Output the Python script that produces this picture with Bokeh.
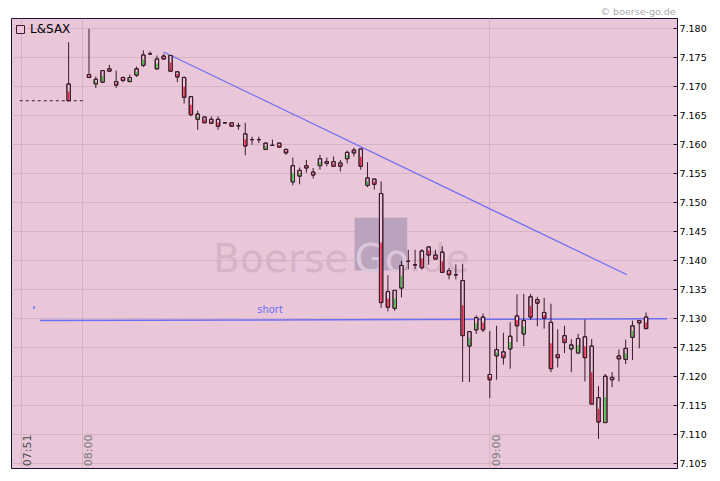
from math import pi
from bokeh.plotting import figure
from bokeh.models import (ColumnDataSource, FixedTicker, NumeralTickFormatter, Label,
                          LabelSet, BoxAnnotation, Range1d, Legend, LegendItem)
from bokeh.core.properties import value
from bokeh.embed import file_html
from bokeh.resources import INLINE

# ---------------- data (minutes relative to 08:00) ----------------
minutes = [-2, 1, 2, 3, 4, 5, 6, 7, 8, 9, 10, 11, 12, 13, 14, 15, 16, 17, 18, 19, 20,
           21, 22, 23, 24, 25, 26, 27, 28, 29, 30, 31, 32, 33, 34, 35, 36, 37, 38, 39, 40,
           41, 42, 43, 44, 45, 46, 47, 48, 49, 50, 51, 52, 53, 54, 55, 56, 57, 58, 59, 60,
           61, 62, 63, 64, 65, 66, 67, 68, 69, 70, 71, 72, 73, 74, 75, 76, 77, 78, 79, 80,
           81, 82, 83]
opens = [7.1705, 7.1721, 7.1705, 7.1708, 7.1731, 7.1709, 7.1716, 7.1709, 7.1720, 7.1737, 7.1757,
         7.1731, 7.1753, 7.1754, 7.1726, 7.1716, 7.1683, 7.1644, 7.1648, 7.1644, 7.1644,
         7.1638, 7.1638, 7.1633, 7.1619, 7.1609, 7.1609, 7.1592, 7.1599, 7.1603, 7.1592,
         7.1536, 7.1546, 7.1564, 7.1553, 7.1564, 7.1571, 7.1571, 7.1569, 7.1576, 7.1591,
         7.1593, 7.1530, 7.1541, 7.1516, 7.1347, 7.1318, 7.1353, 7.1399, 7.1393, 7.1417,
         7.1424, 7.1410, 7.1415, 7.1383, 7.1376, 7.1366, 7.1253, 7.1281, 7.1303, 7.1204,
         7.1236, 7.1243, 7.1248, 7.1305, 7.1274, 7.1338, 7.1333, 7.1311, 7.1294, 7.1238,
         7.1271, 7.1248, 7.1241, 7.1269, 7.1253, 7.1164, 7.1121, 7.1199, 7.1236, 7.1230,
         7.1268, 7.1297, 7.1303]
highs = [7.1777, 7.1800, 7.1718, 7.1729, 7.1738, 7.1728, 7.1718, 7.1721, 7.1735, 7.1763, 7.1761,
         7.1754, 7.1757, 7.1754, 7.1726, 7.1718, 7.1683, 7.1659, 7.1648, 7.1649, 7.1649,
         7.1639, 7.1638, 7.1638, 7.1638, 7.1614, 7.1614, 7.1603, 7.1609, 7.1603, 7.1594,
         7.1578, 7.1561, 7.1574, 7.1560, 7.1583, 7.1578, 7.1580, 7.1574, 7.1590, 7.1595,
         7.1593, 7.1570, 7.1541, 7.1537, 7.1375, 7.1349, 7.1400, 7.1419, 7.1419, 7.1420,
         7.1424, 7.1419, 7.1425, 7.1388, 7.1394, 7.1395, 7.1278, 7.1306, 7.1309, 7.1279,
         7.1288, 7.1276, 7.1294, 7.1342, 7.1343, 7.1343, 7.1338, 7.1336, 7.1326, 7.1282,
         7.1288, 7.1265, 7.1274, 7.1299, 7.1265, 7.1184, 7.1205, 7.1208, 7.1247, 7.1264,
         7.1297, 7.1297, 7.1311]
lows = [7.1676, 7.1716, 7.1698, 7.1707, 7.1727, 7.1698, 7.1708, 7.1708, 7.1717, 7.1734, 7.1755,
        7.1730, 7.1748, 7.1727, 7.1708, 7.1671, 7.1649, 7.1626, 7.1638, 7.1637, 7.1626,
        7.1637, 7.1632, 7.1626, 7.1582, 7.1600, 7.1603, 7.1592, 7.1599, 7.1596, 7.1583,
        7.1530, 7.1532, 7.1552, 7.1542, 7.1557, 7.1563, 7.1563, 7.1554, 7.1568, 7.1580,
        7.1557, 7.1527, 7.1523, 7.1319, 7.1313, 7.1314, 7.1337, 7.1385, 7.1386, 7.1385,
        7.1393, 7.1403, 7.1380, 7.1368, 7.1368, 7.1191, 7.1191, 7.1274, 7.1277, 7.1163,
        7.1195, 7.1221, 7.1214, 7.1260, 7.1253, 7.1298, 7.1287, 7.1283, 7.1208, 7.1216,
        7.1241, 7.1208, 7.1241, 7.1192, 7.1153, 7.1093, 7.1121, 7.1182, 7.1192, 7.1222,
        7.1229, 7.1249, 7.1283]
closes = [7.1676, 7.1716, 7.1713, 7.1728, 7.1727, 7.1703, 7.1711, 7.1716, 7.1731, 7.1755, 7.1757,
          7.1748, 7.1748, 7.1727, 7.1717, 7.1682, 7.1652, 7.1653, 7.1638, 7.1637, 7.1632,
          7.1638, 7.1632, 7.1633, 7.1598, 7.1609, 7.1609, 7.1603, 7.1599, 7.1596, 7.1586,
          7.1564, 7.1556, 7.1560, 7.1548, 7.1576, 7.1568, 7.1563, 7.1563, 7.1587, 7.1586,
          7.1563, 7.1543, 7.1532, 7.1328, 7.1320, 7.1349, 7.1392, 7.1399, 7.1393, 7.1388,
          7.1410, 7.1403, 7.1380, 7.1376, 7.1376, 7.1271, 7.1278, 7.1302, 7.1281, 7.1195,
          7.1247, 7.1233, 7.1270, 7.1288, 7.1297, 7.1303, 7.1327, 7.1301, 7.1214, 7.1233,
          7.1259, 7.1255, 7.1266, 7.1233, 7.1153, 7.1122, 7.1201, 7.1195, 7.1231, 7.1249,
          7.1288, 7.1293, 7.1283]

price_ticks = [7.105, 7.110, 7.115, 7.120, 7.125, 7.130, 7.135, 7.140, 7.145, 7.150,
               7.155, 7.160, 7.165, 7.170, 7.175, 7.180]
time_ticks = [-9, 0, 60]
time_labels = ["07:51", "08:00", "09:00"]
time_label_colors = ["#4a4a4a", "#7a7a7a", "#7a7a7a"]

prev_close_t = [-9.2, 0.1]
prev_close_p = [7.1676, 7.1676]
trend_t = [12.0, 80.2]
trend_p = [7.1760, 7.1376]
short_t = [-6.2, 86.1]
short_p = [7.1297, 7.1300]
mark_t = [-7.1, -7.1]
mark_p = [7.1322, 7.1317]

# ---------------- styling ----------------
BG = "#E9C7D9"
GRID = "#D6B2C7"
DARK = "#3A1A2C"
BODY = "#EEC6DA"
RED = "#E8203C"
GREEN = "#3CC43C"
BLUE = "#6E6EF2"
FONT = "DejaVu Sans"

x0, x1 = -10.41, 87.63
y0, y1 = 7.10419, 7.18178

tops, bottoms, mids, cols = [], [], [], []
for o, c in zip(opens, closes):
    hi_b, lo_b = max(o, c), min(o, c)
    tops.append(hi_b)
    bottoms.append(lo_b)
    mids.append(lo_b + 0.55 * (hi_b - lo_b))
    cols.append(GREEN if c > o else (RED if c < o else BODY))

src = ColumnDataSource(dict(t=minutes, o=opens, h=highs, l=lows, c=closes,
                            top=tops, bottom=bottoms, mid=mids, col=cols))
doji = ColumnDataSource(dict(
    xa=[m - 0.25 for m, o, c in zip(minutes, opens, closes) if o == c],
    xb=[m + 0.25 for m, o, c in zip(minutes, opens, closes) if o == c],
    y=[c for o, c in zip(opens, closes) if o == c]))

p = figure(width=712, height=473, x_range=Range1d(x0, x1), y_range=Range1d(y0, y1),
           y_axis_location="right", output_backend="svg", toolbar_location=None,
           min_border_left=11, min_border_right=35, min_border_top=18, min_border_bottom=5,
           background_fill_color=BG, border_fill_color="white",
           title="\u00a9 boerse-go.de")
p.title.align = "right"
p.title.text_font = FONT
p.title.text_font_size = "9.5px"
p.title.text_font_style = "normal"
p.title.text_color = "#A8A8A8"
p.title.standoff = 4
p.title.offset = 2
p.xaxis.visible = False
p.outline_line_color = "#1A1030"
p.outline_line_width = 1

p.xgrid.ticker = FixedTicker(ticks=time_ticks)
p.ygrid.ticker = FixedTicker(ticks=price_ticks)
p.xgrid.grid_line_color = GRID
p.ygrid.grid_line_color = GRID

ax = p.yaxis[0]
ax.ticker = FixedTicker(ticks=price_ticks)
ax.formatter = NumeralTickFormatter(format="0.000")
ax.major_tick_in = 4
ax.major_tick_out = 0
ax.minor_tick_line_color = None
ax.axis_line_color = "#1A1030"
ax.major_tick_line_color = "#1A1030"
ax.major_label_text_font = FONT
ax.major_label_text_font_size = "9.5px"
ax.major_label_text_color = "#000000"
ax.major_label_standoff = 2

# watermark
p.add_layout(BoxAnnotation(left=40.09, right=47.84, bottom=7.13833, top=7.14741,
                           fill_color="#B9A3BD", fill_alpha=1.0, line_color=None, level="underlay"))
for txt, xx, colr in [("Boerse", 19.3, "#D6B3C7"), ("Go", 40.1, "#DCC6DA"), (".de", 48.05, "#D6B3C7")]:
    p.add_layout(Label(x=xx, y=7.14034, text=txt, text_font=FONT, text_font_size="39px",
                       text_color=colr, text_baseline="alphabetic", level="underlay"))

# reference lines
p.line(prev_close_t, prev_close_p, line_color=DARK, line_width=1, line_dash="3 3")
p.line(short_t, short_p, line_color=BLUE, line_width=1.6)
p.line(trend_t, trend_p, line_color=BLUE, line_width=1.2)
p.line(mark_t, mark_p, line_color="#8C8CF0", line_width=2)

# candles
p.segment(x0="t", y0="l", x1="t", y1="h", source=src, line_color=DARK, line_width=1)
body = p.vbar(x="t", width=0.5, top="top", bottom="bottom", source=src,
              fill_color=BODY, line_color=DARK, line_width=1)
p.vbar(x="t", width=0.22, top="mid", bottom="bottom", source=src,
       fill_color="col", line_color=None)
p.vbar(x="t", width=0.5, top="top", bottom="bottom", source=src,
       fill_color=None, line_color=DARK, line_width=1)
p.segment(x0="xa", y0="y", x1="xb", y1="y", source=doji, line_color=DARK, line_width=1)

# texts
p.add_layout(Label(x=25.76, y=7.1316, text="short", text_font=FONT, text_font_size="10px",
                   text_color=BLUE, text_baseline="alphabetic"))

tl_src = ColumnDataSource(dict(x=time_ticks, y=[y0 + 0.0004] * len(time_ticks),
                               text=time_labels, color=time_label_colors))
p.add_layout(LabelSet(x="x", y="y", text="text", source=tl_src, angle=pi / 2,
                      text_align="left", text_baseline="top", text_font=value(FONT),
                      text_font_size="11px", text_color="color"))

legend = Legend(items=[LegendItem(label="L&SAX", renderers=[body])], location="top_left",
                background_fill_alpha=0, border_line_color=None, glyph_width=10,
                glyph_height=10, label_height=10, label_text_font=FONT,
                label_text_font_size="12px", label_text_color="#000000",
                padding=0, margin=4, label_standoff=5)
p.add_layout(legend)

open("out.html", "w").write(file_html(p, INLINE))
